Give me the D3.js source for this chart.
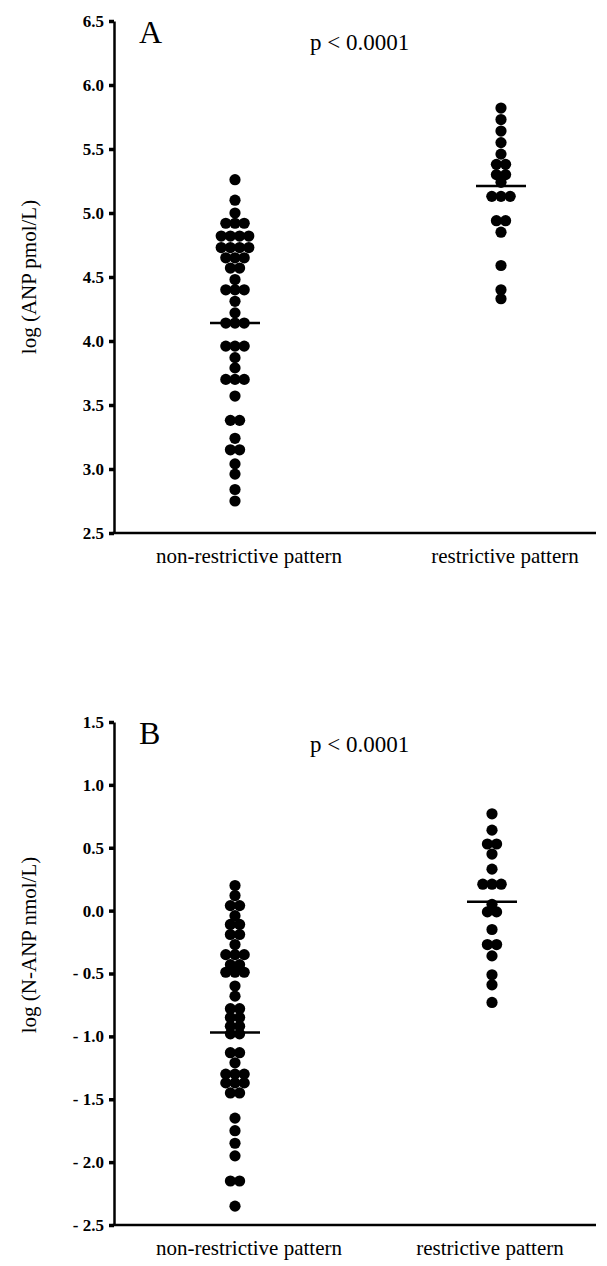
<!DOCTYPE html>
<html lang="en">
<head>
<meta charset="UTF-8" />
<title>log ANP and log N-ANP by filling pattern</title>
<script src="https://d3js.org/d3.v7.min.js"></script>
<style>
    body { margin: 0; background: #fff; }
    svg { display: block; }
    text { font-family: "Liberation Serif", "Times New Roman", serif; fill: #000; }
</style>
</head>
<body>
<script>
    var w = 607;
    var h = 1266;

    var categories = ["non-restrictive pattern", "restrictive pattern"];

    // Panel A - log (ANP pmol/L)
    var anpNonRestrictive = [5.26, 5.10, 5.00, 4.92, 4.92, 4.92, 4.82, 4.82, 4.82, 4.82,
        4.73, 4.73, 4.73, 4.73, 4.65, 4.65, 4.65, 4.57, 4.57, 4.48, 4.40, 4.40, 4.40,
        4.31, 4.22, 4.14, 4.14, 4.14, 3.96, 3.96, 3.96, 3.87, 3.79, 3.70, 3.70, 3.70,
        3.57, 3.38, 3.38, 3.24, 3.15, 3.15, 3.04, 2.96, 2.84, 2.75];
    var anpRestrictive = [5.82, 5.73, 5.64, 5.55, 5.46, 5.38, 5.38, 5.30, 5.30, 5.24,
        5.13, 5.13, 5.13, 4.94, 4.94, 4.85, 4.59, 4.40, 4.33];
    var anpMeans = [4.14, 5.21];
    var anpTicks = [2.5, 3.0, 3.5, 4.0, 4.5, 5.0, 5.5, 6.0, 6.5];

    // Panel B - log (N-ANP nmol/L)
    var nanpNonRestrictive = [0.20, 0.12, 0.04, 0.04, -0.04, -0.11, -0.11, -0.19, -0.19,
        -0.27, -0.35, -0.35, -0.35, -0.43, -0.43, -0.49, -0.49, -0.49, -0.60, -0.68,
        -0.78, -0.78, -0.85, -0.85, -0.92, -0.92, -0.98, -0.98, -1.13, -1.13, -1.21,
        -1.30, -1.30, -1.30, -1.37, -1.37, -1.37, -1.45, -1.45, -1.65, -1.75, -1.85,
        -1.95, -2.15, -2.15, -2.35];
    var nanpRestrictive = [0.77, 0.64, 0.53, 0.53, 0.45, 0.33, 0.21, 0.21, 0.21, 0.05,
        -0.01, -0.01, -0.15, -0.27, -0.27, -0.36, -0.51, -0.59, -0.73];
    var nanpMeans = [-0.97, 0.07];
    var nanpTicks = [-2.5, -2.0, -1.5, -1.0, -0.5, 0.0, 0.5, 1.0, 1.5];

    var svg = d3.select("body")
        .append("svg")
        .attr("width", w)
        .attr("height", h);

    var axisX = 114;
    var axisEnd = 596;
    var r = 5.6;
    var spread = 9.2;

    function drawPanel(p) {
        var g = svg.append("g");

        var yScale = d3.scaleLinear()
            .domain(d3.extent(p.ticks))
            .range([p.bottom, p.top]);

        var xScale = d3.scalePoint()
            .domain(categories)
            .range(p.xRange);

        // y axis
        var yAxis = d3.axisLeft(yScale)
            .tickValues(p.ticks)
            .tickSize(5)
            .tickSizeOuter(0)
            .tickPadding(5)
            .tickFormat(function(d) {
                return d < 0 ? "- " + Math.abs(d).toFixed(1) : d.toFixed(1);
            });

        var ya = g.append("g")
            .attr("transform", "translate(" + axisX + ",0)")
            .call(yAxis);
        ya.select(".domain").attr("stroke-width", 2.5);
        ya.selectAll(".tick line").attr("stroke-width", 3.5);
        ya.selectAll(".tick text")
            .attr("font-size", 17)
            .attr("font-weight", "bold")
            .style("font-family", "'Liberation Serif', serif");

        // x axis line
        g.append("line")
            .attr("x1", axisX - 1.25)
            .attr("x2", axisEnd)
            .attr("y1", p.bottom)
            .attr("y2", p.bottom)
            .attr("stroke", "black")
            .attr("stroke-width", 2.5);

        // category labels
        g.selectAll(".cat")
            .data(categories)
            .enter()
            .append("text")
            .attr("class", "cat")
            .attr("x", function(d, i) { return xScale(d) + p.labelShift[i]; })
            .attr("y", p.bottom + 30)
            .attr("text-anchor", "middle")
            .attr("font-size", 21)
            .text(function(d) { return d; });

        // dots, equal values spread side by side
        p.series.forEach(function(values, i) {
            var rows = d3.groups(values, function(d) { return d; });
            var pts = [];
            rows.forEach(function(row) {
                var n = row[1].length;
                row[1].forEach(function(v, k) {
                    pts.push({ v: v, dx: (k - (n - 1) / 2) * spread });
                });
            });
            g.selectAll(".dot" + i)
                .data(pts)
                .enter()
                .append("circle")
                .attr("cx", function(d) { return xScale(categories[i]) + d.dx; })
                .attr("cy", function(d) { return yScale(d.v); })
                .attr("r", r)
                .attr("fill", "black");

            // mean line
            g.append("line")
                .attr("x1", xScale(categories[i]) - 25)
                .attr("x2", xScale(categories[i]) + 25)
                .attr("y1", yScale(p.means[i]))
                .attr("y2", yScale(p.means[i]))
                .attr("stroke", "black")
                .attr("stroke-width", 2.5);
        });

        // y label
        g.append("text")
            .attr("transform", "translate(" + 36 + "," + p.labelY + ") rotate(-90)")
            .attr("text-anchor", "middle")
            .attr("font-size", 21)
            .text(p.yLabel);

        // panel letter and p value
        g.append("text")
            .attr("x", 139)
            .attr("y", p.top + 22)
            .attr("font-size", 32)
            .text(p.letter);

        g.append("text")
            .attr("x", 310)
            .attr("y", p.pY)
            .attr("font-size", 23)
            .text("p < 0.0001");
    }

    drawPanel({
        top: 21, bottom: 533,
        ticks: anpTicks,
        xRange: [235, 501],
        labelShift: [14, 4],
        series: [anpNonRestrictive, anpRestrictive],
        means: anpMeans,
        yLabel: "log (ANP pmol/L)",
        labelY: 277,
        letter: "A",
        pY: 50
    });

    drawPanel({
        top: 722, bottom: 1225,
        ticks: nanpTicks,
        xRange: [235, 492],
        labelShift: [14, -2],
        series: [nanpNonRestrictive, nanpRestrictive],
        means: nanpMeans,
        yLabel: "log (N-ANP nmol/L)",
        labelY: 945,
        letter: "B",
        pY: 752
    });
</script>
</body>
</html>
